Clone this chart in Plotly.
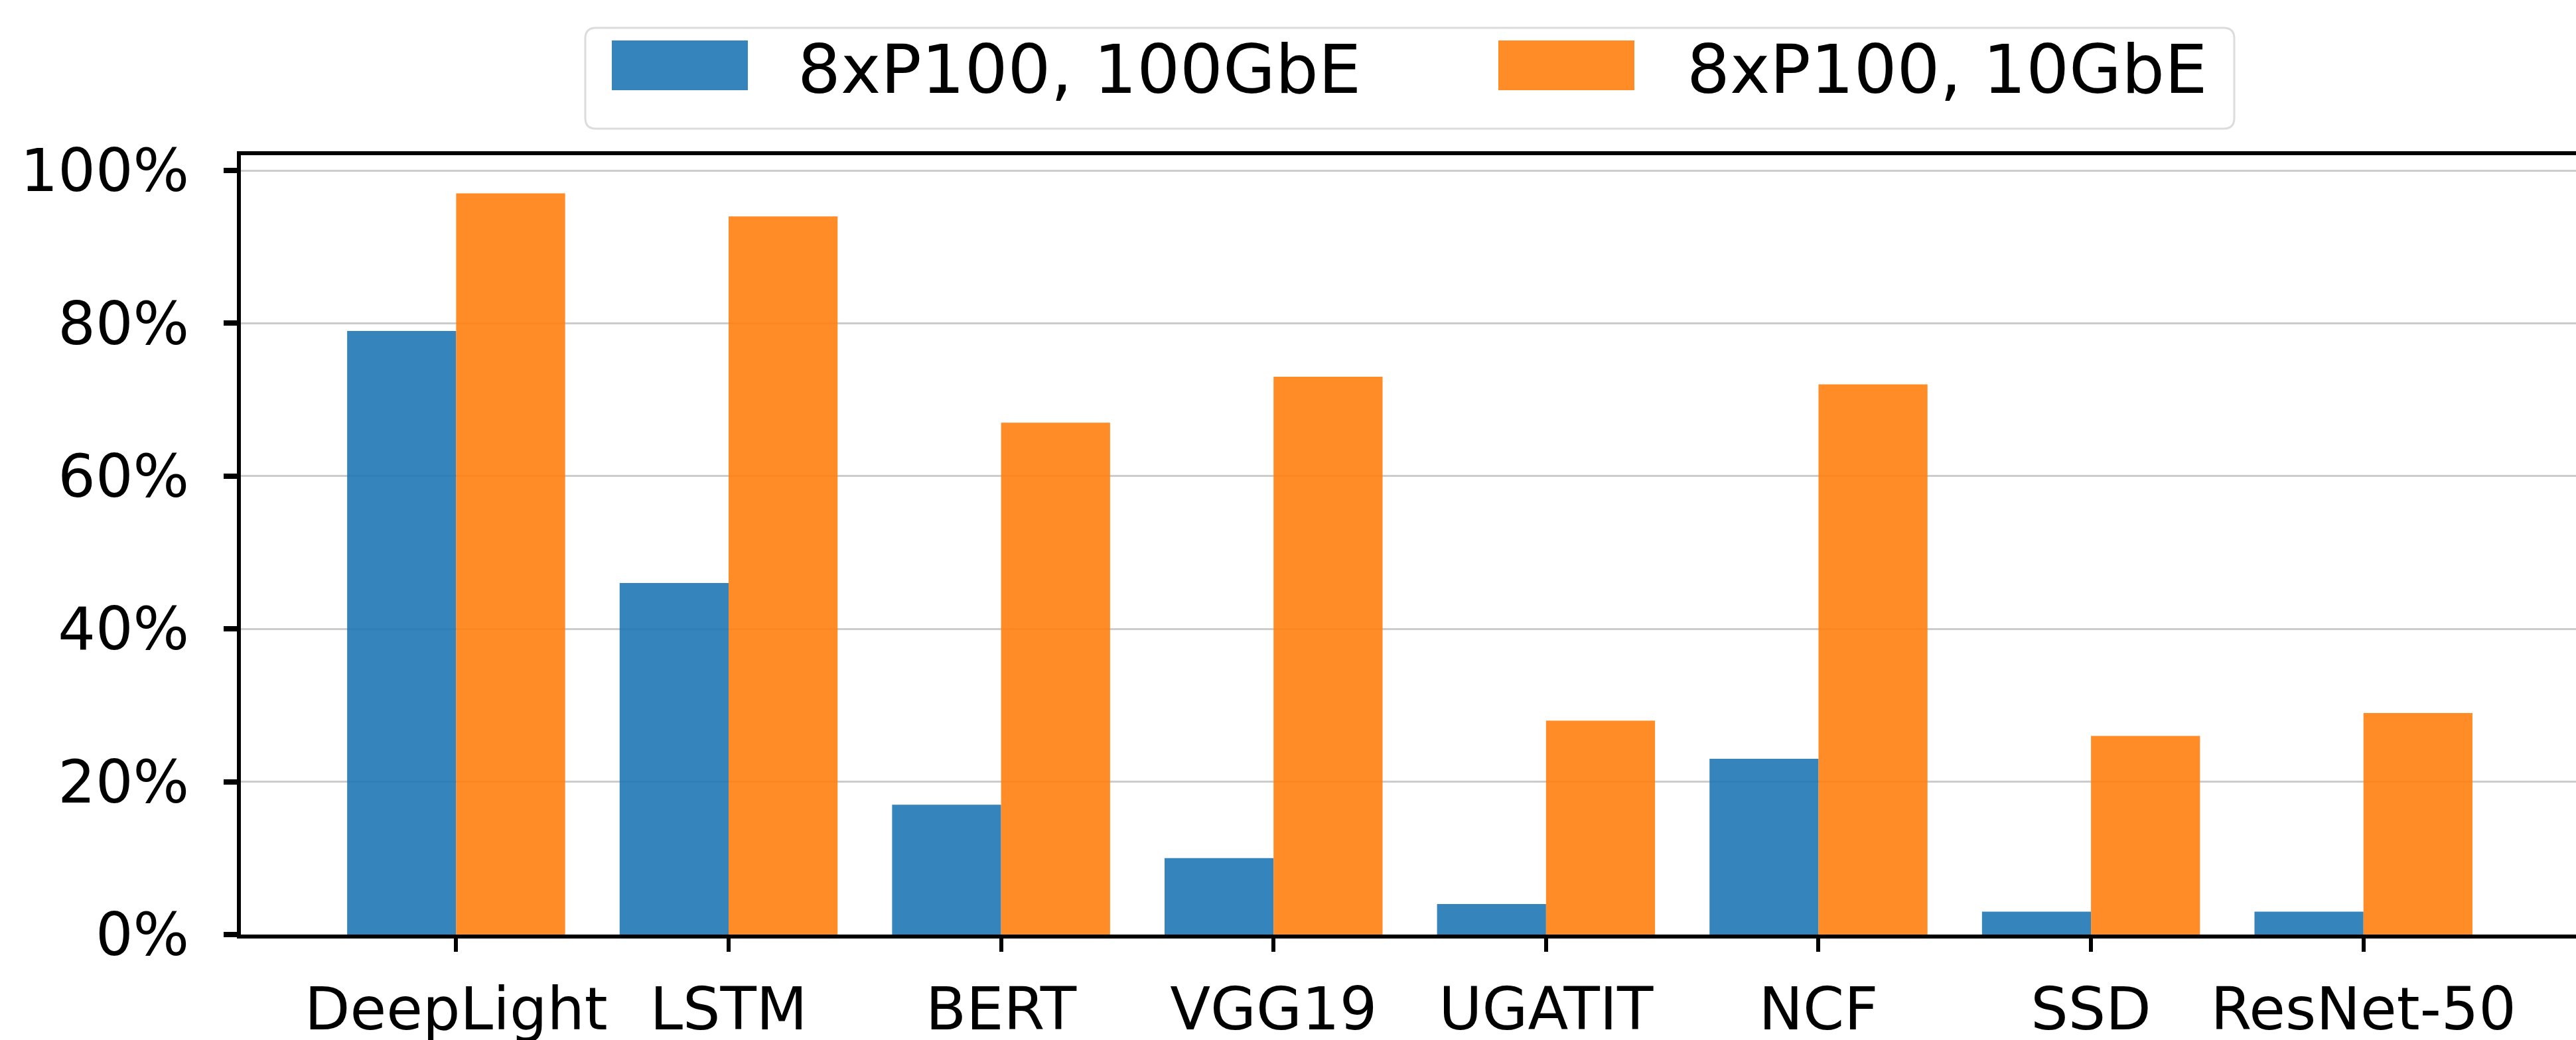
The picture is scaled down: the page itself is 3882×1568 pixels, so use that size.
import plotly.graph_objects as go

categories = ["DeepLight", "LSTM", "BERT", "VGG19", "UGATIT", "NCF", "SSD", "ResNet-50"]
series_names = ["8xP100, 100GbE", "8xP100, 10GbE"]
values_100gbe = [79, 46, 17, 10, 4, 23, 3, 3]
values_10gbe = [97, 94, 67, 73, 28, 72, 26, 29]
y_ticks = [0, 20, 40, 60, 80, 100]
y_tick_labels = ["0%", "20%", "40%", "60%", "80%", "100%"]

colors = ["#1f77b4", "#ff7f0e"]
W, H = 3882, 1568
ML, MR, MT, MB = 363, 0, 234, 159
PW, PH = W - ML - MR, H - MT - MB
FONT = "DejaVu Sans"

fig = go.Figure()
for name, vals, c in zip(series_names, [values_100gbe, values_10gbe], colors):
    fig.add_trace(go.Bar(x=categories, y=vals, name=name, marker=dict(color=c, line=dict(width=0)),
                         opacity=0.9, showlegend=False))

def px2x(px):
    return (px - ML) / PW

def py2y(py):
    return (H - MB - py) / PH

# manual legend (large patches like the original)
bx0, bx1, by0, by1, r = 882, 3367, 42, 194, 16
def P(x, y):
    return f"{px2x(x):.6f},{py2y(y):.6f}"
path = (f"M{P(bx0 + r, by0)} L{P(bx1 - r, by0)} Q{P(bx1, by0)} {P(bx1, by0 + r)} "
        f"L{P(bx1, by1 - r)} Q{P(bx1, by1)} {P(bx1 - r, by1)} L{P(bx0 + r, by1)} "
        f"Q{P(bx0, by1)} {P(bx0, by1 - r)} L{P(bx0, by0 + r)} Q{P(bx0, by0)} {P(bx0 + r, by0)} Z")
shapes = [dict(type="path", xref="paper", yref="paper", path=path,
               line=dict(color="#dcdcdc", width=3), fillcolor="rgba(255,255,255,0.8)", layer="above")]
patches = [(922, 1127), (2258, 2463)]
text_x = [1200, 2540]
annotations = []
for (p0, p1), tx, name, c in zip(patches, text_x, series_names, colors):
    shapes.append(dict(type="rect", xref="paper", yref="paper", x0=px2x(p0), x1=px2x(p1),
                       y0=py2y(136), y1=py2y(61), fillcolor=c, opacity=0.9, line=dict(width=0), layer="above"))
    annotations.append(dict(xref="paper", yref="paper", x=px2x(tx), y=py2y(104), xanchor="left",
                            yanchor="middle", text=name, showarrow=False,
                            font=dict(family=FONT, size=102, color="black")))

fig.update_layout(
    width=W, height=H, margin=dict(l=ML, r=MR, t=MT, b=MB, pad=0, autoexpand=False),
    paper_bgcolor="white", plot_bgcolor="white",
    barmode="group", bargap=0.2, bargroupgap=0,
    font=dict(family=FONT, size=89, color="black"),
    shapes=shapes, annotations=annotations,
    xaxis=dict(range=[-0.79, 7.78], showline=True, linecolor="black", linewidth=6, mirror=True,
               ticks="outside", ticklen=20, tickwidth=6, tickcolor="black", showgrid=False,
               automargin=False,
               tickfont=dict(family=FONT, size=89, color="black"), ticklabelstandoff=10),
    yaxis=dict(range=[0, 102], tickvals=y_ticks, ticktext=y_tick_labels, showline=True,
               linecolor="black", linewidth=6, mirror=False, ticks="outside", ticklen=20, tickwidth=8,
               tickcolor="black", showgrid=True, gridcolor="#cccccc", gridwidth=3, zeroline=False,
               automargin=False,
               tickfont=dict(family=FONT, size=89, color="black"), ticklabelstandoff=34),
)

fig.write_html("out.html", config={"displayModeBar": False},
               post_script="document.body.style.margin='0';document.body.style.overflow='hidden';")
